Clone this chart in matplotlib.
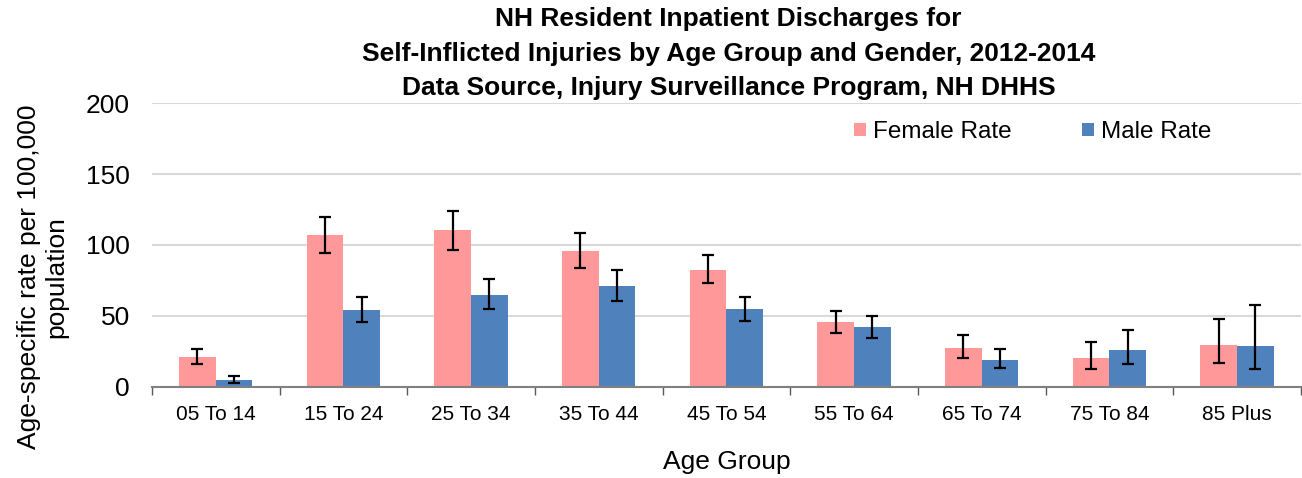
import matplotlib.pyplot as plt
import numpy as np

plt.rcParams['font.family'] = ['Liberation Sans', 'DejaVu Sans']

groups = ["05 To 14", "15 To 24", "25 To 34", "35 To 44", "45 To 54",
          "55 To 64", "65 To 74", "75 To 84", "85 Plus"]
female_rate = [20.9, 107.0, 110.3, 95.8, 82.6, 45.6, 27.7, 20.4, 29.3]
female_low = [16.2, 94.6, 96.5, 83.6, 73.0, 38.0, 20.6, 12.4, 16.9]
female_high = [26.8, 119.7, 124.2, 108.2, 93.0, 53.8, 36.6, 31.7, 47.6]
male_rate = [4.7, 54.2, 65.0, 71.1, 54.9, 42.3, 19.0, 25.8, 29.1]
male_low = [3.0, 45.6, 54.9, 60.6, 46.7, 34.7, 13.1, 15.9, 12.7]
male_high = [8.0, 63.2, 75.8, 82.2, 63.2, 50.0, 26.8, 40.1, 57.5]

x = np.arange(len(groups))
w = 0.287

fig = plt.figure(figsize=(13.02, 4.78), dpi=100)
ax = fig.add_axes([0.1167, 0.1904, 0.8825, 0.5941])

f_err = [np.array(female_rate) - np.array(female_low),
         np.array(female_high) - np.array(female_rate)]
m_err = [np.array(male_rate) - np.array(male_low),
         np.array(male_high) - np.array(male_rate)]
ekw = dict(ecolor='black', elinewidth=1.6, capthick=1.6)

ax.bar(x - w / 2, female_rate, w, color='#FF9999', label='Female Rate',
       yerr=f_err, capsize=4.5, error_kw=ekw, zorder=2)
ax.bar(x + w / 2, male_rate, w, color='#4F81BD', label='Male Rate',
       yerr=m_err, capsize=4.5, error_kw=ekw, zorder=2)

ax.set_xlim(-0.5, len(groups) - 0.5)
ax.set_ylim(0, 200)
ax.set_yticks([0, 50, 100, 150, 200])
ax.yaxis.grid(True, color='#D9D9D9', linewidth=1.5, zorder=0)
ax.set_axisbelow(True)

ax.set_xticks(x)
ax.set_xticklabels(groups, fontsize=15)
ax.tick_params(axis='x', length=0, pad=13)
ax.set_xticks(np.arange(-0.5, len(groups)), minor=True)
ax.tick_params(axis='x', which='minor', length=6, color='#595959', width=1)
ax.tick_params(axis='y', length=0, labelsize=19, pad=16)

for s in ['top', 'right', 'left']:
    ax.spines[s].set_visible(False)
ax.spines['bottom'].set_color('#808080')
ax.spines['bottom'].set_linewidth(1.5)

ax.set_xlabel("Age Group", fontsize=19, labelpad=19)
ax.set_ylabel("Age-specific rate per 100,000\npopulation", fontsize=19)
ax.yaxis.set_label_coords(-0.0727, 0.387)

fig.text(0.5595, 0.985, "NH Resident Inpatient Discharges for\n"
         "Self-Inflicted Injuries by Age Group and Gender, 2012-2014\n"
         "Data Source, Injury Surveillance Program, NH DHHS",
         ha='center', va='top', fontsize=19, fontweight='bold', linespacing=1.55)

fig.legend(*ax.get_legend_handles_labels(), loc='center left',
           bbox_to_anchor=(854 / 1302, 1 - 132 / 478), ncol=2, frameon=False,
           fontsize=17.5, handlelength=0.49, handleheight=0.49, columnspacing=2.9,
           handletextpad=0.29, borderpad=0, borderaxespad=0)

plt.savefig("out.png", dpi=100)
